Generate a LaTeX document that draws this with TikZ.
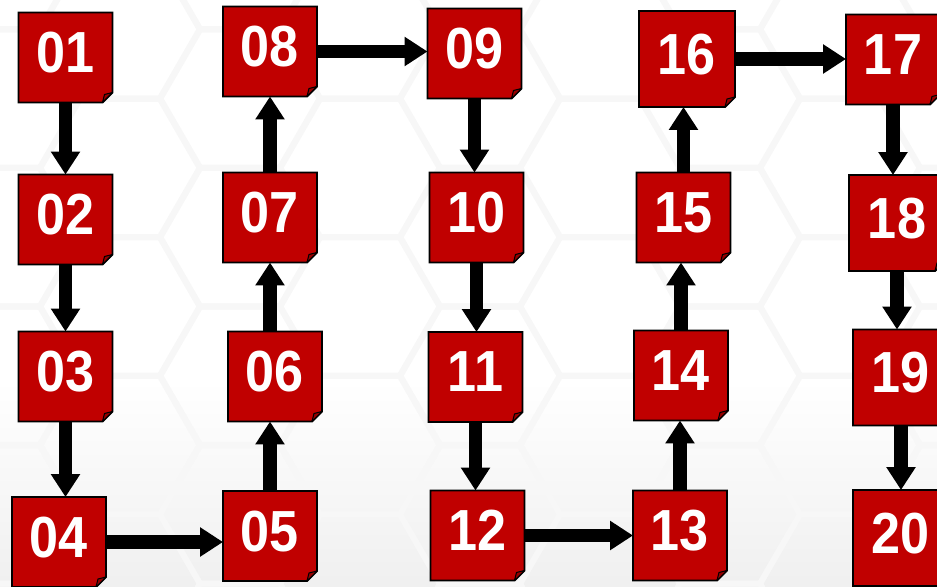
\documentclass[tikz,border=0pt]{standalone}
\usepackage{fontspec}
\setmainfont{Liberation Sans}[FakeStretch=0.9]
\usepackage{tikz}
\usetikzlibrary{arrows.meta}
\definecolor{notered}{RGB}{192,0,0}
\definecolor{folddark}{RGB}{150,0,0}
\pgfdeclarelayer{bg}
\pgfdeclarelayer{cards}
\pgfsetlayers{bg,cards,main}

\begin{document}
\begin{tikzpicture}[x=0.02cm, y=-0.02cm,
  card/.style={rectangle, minimum width=1.88cm, minimum height=1.8cm, inner sep=0pt, outer sep=0pt,
    text=white, text depth=0.2cm, font=\fontsize{33}{33}\selectfont\bfseries},
  bigcard/.style={card, minimum width=1.92cm, minimum height=1.92cm},
  cardline/.style={fill=notered, draw=black, line width=1.1pt, line join=miter},
  fold/.style={fill=folddark, draw=black, line width=0.6pt, line join=round},
  hexline/.style={draw=gray!6, line width=0.12cm},
  arr/.style={-{Triangle[width=0.56cm,length=0.46cm]}, line width=0.27cm}]
% background
\useasboundingbox (0,0) rectangle (937,586);
\begin{pgfonlayer}{bg}
\fill[white] (0,0) rectangle (937,586);
\shade[top color=white, bottom color=gray!12] (0,380) rectangle (937,586);
\foreach \i in {0,...,8}
  \foreach \j in {0,...,5}
    \draw[hexline, shift={({\i*120},{\j*138.6+mod(\i,2)*69.3-40})}]
      (0:80) -- (60:80) -- (120:80) -- (180:80) -- (240:80) -- (300:80) -- cycle;
\end{pgfonlayer}
% cards
\node[card] (b01) at (65.5,57.5) {01};
\node[card] (b02) at (65.5,219.5) {02};
\node[card] (b03) at (65.5,376.5) {03};
\node[card] (b04) at (59,542) {04};
\node[card] (b05) at (270,536) {05};
\node[card] (b06) at (275,376.5) {06};
\node[card] (b07) at (270,217.5) {07};
\node[card] (b08) at (270,51.5) {08};
\node[card] (b09) at (474.5,53.5) {09};
\node[card] (b10) at (476.5,217.5) {10};
\node[card] (b11) at (475.5,377) {11};
\node[card] (b12) at (477.5,535.5) {12};
\node[card] (b13) at (680,535.5) {13};
\node[card] (b14) at (681,375.5) {14};
\node[card] (b15) at (683.5,217.5) {15};
\node[bigcard] (b16) at (687,59) {16};
\node[card] (b17) at (893,59.5) {17};
\node[bigcard] (b18) at (897,223) {18};
\node[bigcard] (b19) at (901,377.5) {19};
\node[bigcard] (b20) at (901,538) {20};
% card outlines with folded corner
\foreach \n in {b01,b02,b03,b04,b05,b06,b07,b08,b09,b10,b11,b12,b13,b14,b15,b16,b17,b18,b19,b20} {
  \begin{pgfonlayer}{cards}
  \draw[cardline] (\n.north west) -- (\n.north east) -- ([yshift=0.2cm]\n.south east)
    -- ([xshift=-0.2cm]\n.south east) -- (\n.south west) -- cycle;
  \end{pgfonlayer}
  \draw[fold] ([xshift=-0.2cm]\n.south east) -- ([yshift=0.2cm]\n.south east)
    -- ([shift={(-0.16cm,0.16cm)}]\n.south east) -- cycle;
}
% arrows
\draw[arr] (b01) -- (b01 |- b02.north); \draw[arr] (b02) -- (b02 |- b03.north); \draw[arr] (b03) -- (b03 |- b04.north);
\draw[arr] (b04) -- (b04 -| b05.west);
\draw[arr] (b05) -- (b05 |- b06.south); \draw[arr] (b07 |- b06.north) -- (b07); \draw[arr] (b07) -- (b07 |- b08.south);
\draw[arr] (b08) -- (b08 -| b09.west);
\draw[arr] (b09) -- (b09 |- b10.north); \draw[arr] (b10) -- (b10 |- b11.north); \draw[arr] (b11) -- (b11 |- b12.north);
\draw[arr] (b12) -- (b12 -| b13.west);
\draw[arr] (b13) -- (b13 |- b14.south); \draw[arr] (b14) -- (b14 |- b15.south); \draw[arr] (b15) -- (b15 |- b16.south);
\draw[arr] (b16) -- (b16 -| b17.west);
\draw[arr] (b17) -- (b17 |- b18.north); \draw[arr] (b18) -- (b18 |- b19.north); \draw[arr] (b19) -- (b19 |- b20.north);
\end{tikzpicture}
\end{document}
